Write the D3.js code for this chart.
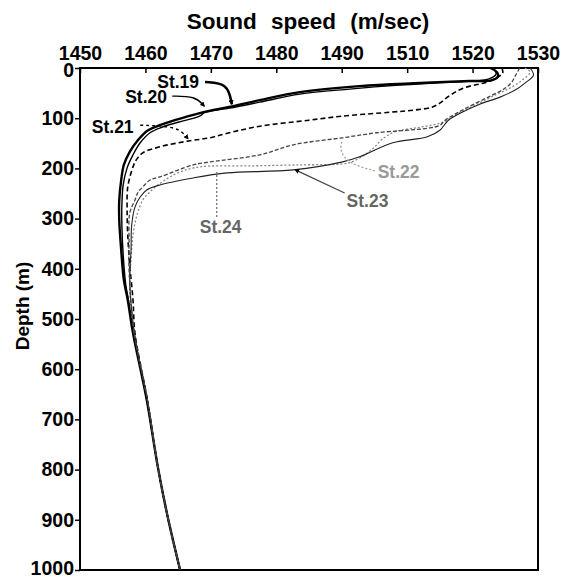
<!DOCTYPE html>
<html>
<head>
<meta charset="utf-8">
<script src="https://cdn.jsdelivr.net/npm/d3@7"></script>
<style>
  body { margin: 0; background: #fff; }
  svg { font-family: "Liberation Sans", Arial, sans-serif; font-weight: bold; }
</style>
</head>
<body>
<svg id="chart" width="581" height="579"></svg>
<script>
// tick labels as printed on the figure (1500 is missing in the original)
var speedTicks = [1450, 1460, 1470, 1480, 1490, 1510, 1520, 1530];
var depthTicks = [0, 100, 200, 300, 400, 500, 600, 700, 800, 900, 1000];

// [depth (m), sound speed (m/sec)]
var st19 = [[0,1522.7],[8,1523.7],[16,1523.9],[24,1523.0],[26,1519.6],[30,1512.0],[36,1495.5],[48,1483.6],
  [64,1477.5],[76,1473.4],[90,1468.3],[104,1464.5],[114,1462.2],[124,1460.4],[143,1458.9],[167,1457.6],
  [193,1456.7],[223,1456.3],[263,1456.0],[303,1456.0],[363,1456.3],[422,1456.7],[462,1457.3],[528,1458.1],
  [661,1460.2],[795,1461.9],[894,1463.4],[1000,1465.3]];
var st20 = [[0,1523.1],[12,1523.6],[22,1522.4],[28,1516.6],[34,1507.7],[42,1492.4],[52,1483.6],[68,1477.5],
  [80,1472.9],[88,1469.1],[96,1468.3],[108,1465.0],[118,1462.5],[129,1460.7],[149,1459.2],[173,1458.1],
  [199,1457.2],[233,1456.6],[273,1456.4],[313,1456.4],[372,1456.6],[432,1457.0],[462,1457.4],[528,1458.2],
  [661,1460.2],[795,1461.9],[894,1463.4],[1000,1465.3]];
var st21 = [[0,1524.5],[10,1524.6],[18,1523.9],[28,1522.2],[40,1518.6],[55,1516.5],[70,1515.0],[78,1513.8],
  [84,1511.0],[88,1505.0],[96,1490.0],[104,1485.0],[116,1477.5],[130,1472.5],[139,1469.9],[145,1466.8],
  [157,1462.2],[169,1459.6],[183,1458.6],[197,1458.1],[237,1457.3],[283,1457.2],[333,1457.3],[392,1457.6],
  [462,1458.1],[528,1458.4],[661,1460.3],[795,1461.9],[894,1463.4],[1000,1465.3]];
var st22 = [[0,1528.0],[8,1528.8],[24,1527.6],[40,1525.7],[54,1523.4],[74,1520.4],[94,1517.3],[108,1515.5],
  [118,1512.0],[127,1506.2],[143,1502.2],[159,1499.8],[173,1497.0],[187,1493.1],[191,1490.3],[193,1483.6],
  [195,1476.0],[197,1468.3],[207,1465.3],[223,1463.0],[243,1461.0],[263,1459.6],[293,1458.7],[333,1458.1],
  [382,1457.8],[442,1457.6],[528,1458.3],[661,1460.3],[795,1461.9],[894,1463.4],[1000,1465.3]];
var st23 = [[0,1528.8],[14,1529.3],[30,1528.0],[44,1526.5],[58,1524.2],[72,1521.1],[88,1518.4],[104,1516.3],
  [124,1515.0],[137,1513.1],[149,1505.6],[177,1495.5],[187,1490.3],[203,1482.6],[209,1472.5],[219,1467.3],
  [233,1462.2],[243,1460.2],[257,1459.2],[277,1458.4],[313,1457.9],[363,1457.8],[422,1457.6],[528,1458.3],
  [661,1460.3],[795,1461.9],[894,1463.4],[1000,1465.3]];
var st24 = [[0,1527.2],[14,1526.6],[28,1526.0],[40,1525.0],[56,1522.7],[76,1519.6],[92,1517.3],[104,1515.8],
  [114,1515.0],[120,1513.1],[129,1500.7],[139,1490.3],[153,1482.6],[173,1477.5],[187,1469.9],[193,1467.3],
  [217,1462.2],[223,1460.7],[237,1459.6],[247,1458.9],[263,1458.4],[289,1457.6],[343,1457.5],[402,1457.5],
  [528,1458.3],[661,1460.3],[795,1461.9],[894,1463.4],[1000,1465.3]];

var stations = [
  {name: "St.19", data: st19, color: "#000", width: 2.4, dash: null},
  {name: "St.20", data: st20, color: "#000", width: 1.4, dash: null},
  {name: "St.21", data: st21, color: "#000", width: 1.6, dash: "5,3"},
  {name: "St.22", data: st22, color: "#888", width: 1.3, dash: "2,2"},
  {name: "St.23", data: st23, color: "#222", width: 1.1, dash: null},
  {name: "St.24", data: st24, color: "#444", width: 1.3, dash: "4,2"}
];

// label anchor [speed, depth] and leader lines, in data units
var labels = [
  {text: "St.19", at: [1461.8, 40],  fill: "#000"},
  {text: "St.20", at: [1456.9, 70],  fill: "#000"},
  {text: "St.21", at: [1451.8, 129], fill: "#000"},
  {text: "St.22", at: [1501.0, 219], fill: "#999"},
  {text: "St.23", at: [1491.5, 277], fill: "#666"},
  {text: "St.24", at: [1468.3, 329], fill: "#666"}
];
var leaders = [
  {pts: [[1469.1, 28], [1472.6, 30], [1473.2, 72]], width: 2.6, dash: null,  color: "#000", arrow: true},
  {pts: [[1464.1, 56], [1467.6, 56], [1469.0, 76]], width: 1.4, dash: null,  color: "#000", arrow: true},
  {pts: [[1459.2, 114], [1465.0, 116], [1466.5, 141]], width: 1.4, dash: "3,3", color: "#000", arrow: true},
  {pts: [[1490.0, 147], [1489.7, 167], [1492.4, 191], [1500.1, 205]], width: 1.2, dash: "2,2", color: "#999", arrow: false},
  {pts: [[1490.9, 249], [1482.9, 203]], width: 1.2, dash: null, color: "#444", arrow: true},
  {pts: [[1470.9, 297], [1470.9, 207]], width: 1.2, dash: "2,2", color: "#666", arrow: false}
];

var margin = {top: 68, right: 43, bottom: 9, left: 80},
    width = 581 - margin.left - margin.right,
    height = 579 - margin.top - margin.bottom;

var x = d3.scaleLinear()
    .domain(speedTicks)
    .range(speedTicks.map(function(d, i) { return i * width / (speedTicks.length - 1); }));

var y = d3.scaleLinear()
    .domain([0, 1000])
    .range([0, height]);

var svg = d3.select("#chart");

var chart = svg.append("g")
    .attr("transform", "translate(" + margin.left + "," + margin.top + ")");

// arrow head
svg.append("defs").append("marker")
    .attr("id", "arrow")
    .attr("viewBox", "0 0 10 10")
    .attr("refX", 8).attr("refY", 5)
    .attr("markerWidth", 5).attr("markerHeight", 5)
    .attr("markerUnits", "userSpaceOnUse")
    .attr("orient", "auto")
  .append("path")
    .attr("d", "M0,0L10,5L0,10z")
    .attr("fill", "#000");

// top axis
var xAxis = d3.axisTop(x)
    .tickValues(speedTicks)
    .tickSize(-5)
    .tickPadding(8)
    .tickFormat(d3.format("d"));

chart.append("g")
    .attr("class", "x axis")
    .call(xAxis);

// left axis
var yAxis = d3.axisLeft(y)
    .tickValues(depthTicks)
    .tickSize(5)
    .tickPadding(1)
    .tickFormat(d3.format("d"));

chart.append("g")
    .attr("class", "y axis")
    .call(yAxis);

chart.selectAll(".axis text")
    .attr("font-size", "19.5px")
    .attr("font-weight", "bold")
    .attr("font-family", "Liberation Sans, Arial, sans-serif")
    .attr("fill", "#000");
chart.selectAll(".axis .tick line").attr("stroke", "#000").attr("stroke-width", 1.5);
chart.selectAll(".axis .domain").remove();

// end labels sit slightly off their ticks in the original
chart.selectAll(".y.axis .tick text")
    .filter(function(d) { return d === 0; })
    .attr("dy", "0.45em");
chart.selectAll(".y.axis .tick text")
    .filter(function(d) { return d === 1000; })
    .attr("dy", "0.22em");

// frame
chart.append("rect")
    .attr("x", 0).attr("y", 0)
    .attr("width", width).attr("height", height)
    .attr("fill", "none")
    .attr("stroke", "#000")
    .attr("stroke-width", 2);

// profiles
var line = d3.line()
    .x(function(d) { return x(d[1]); })
    .y(function(d) { return y(d[0]); })
    .curve(d3.curveCatmullRom.alpha(0.5));

chart.selectAll(".profile")
    .data(stations)
  .enter().append("path")
    .attr("class", "profile")
    .attr("d", function(d) { return line(d.data); })
    .attr("fill", "none")
    .attr("stroke", function(d) { return d.color; })
    .attr("stroke-width", function(d) { return d.width; })
    .attr("stroke-dasharray", function(d) { return d.dash; })
    .attr("stroke-linejoin", "round");

// leaders
var leaderLine = d3.line()
    .x(function(d) { return x(d[0]); })
    .y(function(d) { return y(d[1]); })
    .curve(d3.curveBasis);

chart.selectAll(".leader")
    .data(leaders)
  .enter().append("path")
    .attr("class", "leader")
    .attr("d", function(d) { return leaderLine(d.pts); })
    .attr("fill", "none")
    .attr("stroke", function(d) { return d.color; })
    .attr("stroke-width", function(d) { return d.width; })
    .attr("stroke-dasharray", function(d) { return d.dash; })
    .attr("marker-end", function(d) { return d.arrow ? "url(#arrow)" : null; });

// station labels
chart.selectAll(".stlabel")
    .data(labels)
  .enter().append("text")
    .attr("class", "stlabel")
    .attr("x", function(d) { return x(d.at[0]); })
    .attr("y", function(d) { return y(d.at[1]); })
    .attr("font-size", "17.5px")
    .attr("fill", function(d) { return d.fill; })
    .text(function(d) { return d.text; });

// axis titles
svg.append("text")
    .attr("x", 308)
    .attr("y", 29)
    .attr("text-anchor", "middle")
    .attr("font-size", "22.5px")
    .attr("word-spacing", "8px")
    .text("Sound speed (m/sec)");

svg.append("text")
    .attr("transform", "translate(29,306) rotate(-90)")
    .attr("text-anchor", "middle")
    .attr("font-size", "19px")
    .text("Depth (m)");
</script>
</body>
</html>
